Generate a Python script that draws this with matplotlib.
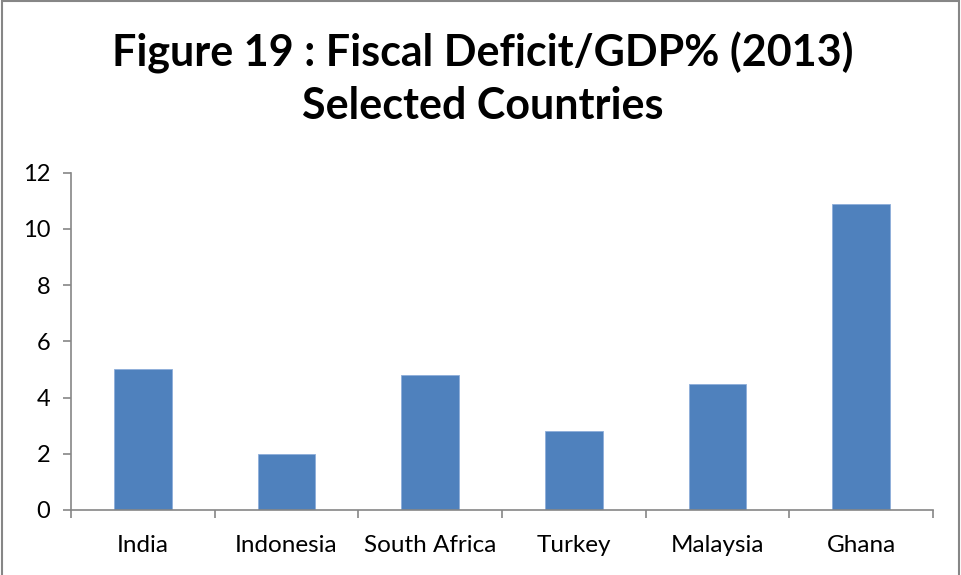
import matplotlib
matplotlib.use("Agg")
import matplotlib.pyplot as plt
from matplotlib.patches import Rectangle
import numpy as np

countries = ["India", "Indonesia", "South Africa", "Turkey", "Malaysia", "Ghana"]
deficit_pct = [5.0, 2.0, 4.8, 2.8, 4.5, 10.9]
y_ticks = [0, 2, 4, 6, 8, 10, 12]
title_lines = ["Figure 19 : Fiscal Deficit/GDP% (2013)", "Selected Countries"]

plt.rcParams["font.family"] = ["Lato", "DejaVu Sans"]

fig = plt.figure(figsize=(9.62, 5.75), dpi=100)
ax = fig.add_axes([71 / 962, 1 - 510 / 575, 862 / 962, (510 - 172.7) / 575])

x = np.arange(len(countries))
ax.bar(x, deficit_pct, width=0.4, color="#4F81BD", edgecolor="#8EAEDA", linewidth=0.6, zorder=2)

ax.set_xlim(-0.5, len(countries) - 0.5)
ax.set_ylim(0, 12)
ax.set_yticks(y_ticks)
ax.set_yticklabels([str(v) for v in y_ticks], fontsize=17, color="black")

# category boundaries carry the tick marks, labels sit at bar centres
ax.set_xticks(np.arange(len(countries) + 1) - 0.5)
ax.set_xticklabels([])
ax.set_xticks(x, minor=True)
ax.set_xticklabels(countries, minor=True, fontsize=17.5, color="black")
ax.tick_params(axis="x", which="minor", length=0, pad=18)
ax.tick_params(axis="x", which="major", length=6, width=1.2, color="#868686", direction="out")
ax.tick_params(axis="y", length=6, width=1.2, color="#868686", direction="out", pad=9)

for side in ("top", "right"):
    ax.spines[side].set_visible(False)
for side in ("left", "bottom"):
    ax.spines[side].set_color("#868686")
    ax.spines[side].set_linewidth(1.2)

# two-line title, each line placed by its baseline
fig.text(483 / 962, 1 - 67 / 575, title_lines[0], ha="center", va="baseline",
         fontsize=31, fontweight="bold")
fig.text(483 / 962, 1 - 119 / 575, title_lines[1], ha="center", va="baseline",
         fontsize=31, fontweight="bold")

# chart frame
fig.patches.append(Rectangle((2 / 962, -0.05), 957 / 962, 1.05 - 1.5 / 575,
                             transform=fig.transFigure, fill=False,
                             edgecolor="#868686", linewidth=1.5))

fig.savefig("out.png", dpi=100)
